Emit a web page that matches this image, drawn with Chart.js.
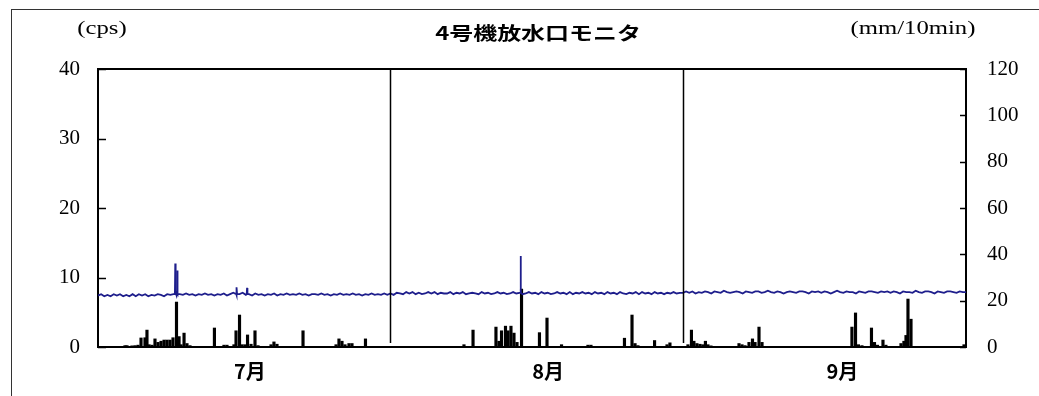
<!DOCTYPE html>
<html>
<head>
<meta charset="utf-8">
<script src="https://cdn.jsdelivr.net/npm/chart.js@4.4.1/dist/chart.umd.min.js"></script>
<style>
  html, body { margin: 0; padding: 0; background: #fff; overflow: hidden; }
  #wrap { position: relative; width: 1039px; height: 396px; }
  #frame { position: absolute; left: 11px; top: 9px; width: 1100px; height: 500px; border: 1.5px solid #333; box-sizing: border-box; }
  #chart { position: absolute; left: 0; top: 0; }
</style>
</head>
<body>
<div id="wrap">
  <div id="frame"></div>
  <canvas id="chart" width="1039" height="396"></canvas>
</div>
<script>
'use strict';

// --- data (x = days since 1 July) ---
const titleText = '4号機放水口モニタ';
const leftUnit = '(cps)';
const rightUnit = '(mm/10min)';
const monthLabels = ['7月', '8月', '9月'];
const monthLabelDays = [16.1, 47.7, 78.9];
const monthBreaks = [31, 62];

// monitor readings, 3 per day
const cpsJul = [
  7.4, 7.6, 7.3, 7.5, 7.3, 7.6, 7.4, 7.6, 7.3,
  7.5, 7.3, 7.6, 7.3, 7.6, 7.4, 7.6, 7.3, 7.5,
  7.4, 7.6, 7.5, 7.3, 7.6, 7.5, 7.6, 7.4, 7.6,
  7.5, 7.7, 7.5, 7.6, 7.4, 7.6, 7.5, 7.7, 7.5,
  7.6, 7.4, 7.6, 7.5, 7.7, 7.4, 7.6, 7.8, 7.5,
  7.6, 7.8, 7.5, 7.6, 7.4, 7.7, 7.5, 7.6, 7.4,
  7.6, 7.5, 7.7, 7.4, 7.6, 7.5, 7.7, 7.5, 7.6,
  7.5, 7.7, 7.5, 7.6, 7.4, 7.6, 7.6, 7.5, 7.7,
  7.5, 7.6, 7.4, 7.6, 7.5, 7.7, 7.5, 7.6, 7.5,
  7.7, 7.5, 7.6, 7.4, 7.6, 7.5, 7.7, 7.5, 7.6,
  7.5, 7.7, 7.5
];
const cpsAug = [
  7.7, 7.5, 7.8, 7.7, 7.6, 7.9, 7.7, 7.9, 7.6,
  7.8, 7.6, 7.7, 7.9, 7.7, 7.9, 7.6, 7.8, 7.7,
  7.7, 7.9, 7.6, 7.8, 7.7, 7.9, 7.6, 7.7, 7.8,
  7.7, 7.6, 7.9, 7.7, 7.8, 7.6, 7.7, 7.9, 7.7,
  7.8, 7.6, 7.7, 7.9, 7.7, 7.8, 7.6, 7.7, 7.9,
  7.7, 7.8, 7.6, 7.9, 7.7, 7.8, 7.6, 7.7, 7.9,
  7.7, 7.8, 7.6, 7.9, 7.6, 7.8, 7.7, 7.9, 7.7,
  7.8, 7.6, 7.9, 7.7, 7.8, 7.6, 7.9, 7.7, 7.8,
  7.6, 7.9, 7.7, 7.6, 7.8, 7.7, 7.9, 7.6, 7.9,
  7.7, 7.8, 7.6, 7.9, 7.7, 7.8, 7.6, 7.8, 7.7,
  7.9, 7.7, 7.8
];
const cpsSep = [
  7.8, 8.0, 7.8, 8.0, 7.7, 7.9, 7.8, 8.0, 7.9,
  7.7, 8.0, 7.9, 7.8, 8.1, 7.9, 7.8, 7.9, 8.0,
  7.9, 7.7, 8.0, 7.9, 7.8, 8.0, 8.0, 7.8, 7.9,
  8.1, 7.9, 7.8, 8.0, 7.9, 7.7, 7.9, 8.0, 7.9,
  7.8, 8.0, 8.0, 7.9, 7.7, 8.0, 7.9, 8.0, 7.8,
  8.0, 7.9, 7.7, 7.9, 8.1, 7.9, 7.8, 8.0, 7.9,
  7.9, 7.7, 8.0, 7.9, 7.8, 8.0, 8.0, 7.9, 7.8,
  8.0, 7.9, 8.0, 7.8, 8.0, 7.9, 7.7, 8.0, 7.9,
  7.9, 7.8, 8.1, 7.9, 7.8, 8.0, 8.0, 7.9, 7.7,
  8.0, 7.9, 7.8, 8.0, 8.0, 7.9, 7.8, 8.0, 7.9,
  7.9
];
// short spikes in the monitor reading
const spikeDays = [8.15, 8.19, 8.23, 8.38, 8.41, 8.45, 14.66, 14.7, 14.74, 15.76, 15.8, 15.84, 44.75, 44.79, 44.83];
const spikeCps  = [7.6, 12.0, 7.8, 7.7, 11.0, 7.6, 7.6, 8.6, 7.6, 7.6, 8.5, 7.6, 7.8, 13.1, 7.8];

// rainfall (mm/10min)
const rainDays = [
  2.86, 3.07, 3.6, 3.92, 4.24, 4.56, 4.98, 5.19, 5.41, 5.72, 6.04, 6.36, 6.68, 7.0, 7.31, 7.63, 7.95,
  8.32, 8.59, 8.8, 9.12, 9.43, 9.75, 12.34, 13.35, 13.67, 14.41, 14.63, 15.0, 15.26, 15.58, 15.85,
  16.22, 16.64, 16.96, 18.34, 18.65, 18.97, 21.73, 25.23, 25.54, 25.86, 26.18, 26.6, 26.92, 28.35,
  38.79, 39.75, 42.18, 42.5, 42.77, 43.19, 43.46, 43.77, 44.09, 44.41, 44.89, 46.79, 47.59, 49.13,
  51.93, 52.25, 55.8, 56.6, 56.92, 57.23, 58.99, 60.31, 60.62,
  62.53, 62.9, 63.16, 63.48, 63.8, 64.11, 64.38, 64.65, 64.97, 67.94, 68.26, 68.58, 69.0, 69.37,
  69.64, 70.06, 70.38, 79.91, 80.29, 80.6, 80.97, 81.98, 82.3, 82.62, 83.2, 83.51, 85.11, 85.42,
  85.64, 85.85, 86.17, 91.79
];
const rainMm = [
  0.6, 0.6, 0.5, 0.6, 0.8, 3.9, 4.0, 7.3, 1.0, 0.8, 3.5, 2.0, 2.5, 3.0, 3.0, 3.0, 4.0,
  19.4, 4.5, 1.0, 6.0, 1.5, 0.6, 8.2, 0.8, 0.8, 1.0, 7.0, 13.8, 1.0, 1.0, 5.2,
  1.2, 7.0, 0.6, 1.0, 2.2, 1.2, 7.0, 1.0, 3.5, 2.5, 1.0, 1.5, 1.5, 3.5,
  1.0, 7.3, 8.6, 2.5, 7.0, 9.0, 7.0, 9.0, 6.0, 2.0, 25.0, 6.2, 12.5, 1.0,
  0.8, 0.8, 3.8, 13.8, 1.5, 0.6, 2.8, 1.0, 1.8,
  1.0, 7.3, 2.5, 1.5, 1.2, 1.0, 2.5, 1.0, 0.5, 1.5, 1.0, 0.6, 2.0, 3.5,
  2.0, 8.6, 2.0, 8.6, 14.7, 1.0, 0.6, 8.2, 2.0, 0.8, 3.0, 0.8, 1.5, 2.5,
  5.0, 20.7, 12.0, 1.0
];

// build point lists
var cpsPoints = [];
cpsJul.forEach(function (v, i) { cpsPoints.push({ x: i / 3, y: v }); });
cpsAug.forEach(function (v, i) { cpsPoints.push({ x: 31 + i / 3, y: v }); });
cpsSep.forEach(function (v, i) { cpsPoints.push({ x: 62 + i / 3, y: v }); });
spikeDays.forEach(function (d, i) { cpsPoints.push({ x: d, y: spikeCps[i] }); });
cpsPoints.sort(function (a, b) { return a.x - b.x; });

var rainPoints = rainDays.map(function (d, i) { return { x: d, y: rainMm[i] }; });

const SERIF = "'Liberation Serif', 'DejaVu Serif', serif";
const GOTHIC = "'Noto Sans CJK JP', 'Noto Sans', sans-serif";

// frame lines, inward ticks, month dividers, stretched header text
const decorPlugin = {
  id: 'decor',
  afterDraw: function (chart) {
    var ctx = chart.ctx;
    var a = chart.chartArea;
    var x = chart.scales.x, y = chart.scales.y, y2 = chart.scales.y2;
    ctx.save();
    ctx.strokeStyle = '#000';
    ctx.lineWidth = 2;
    ctx.beginPath();
    ctx.moveTo(a.left, a.top);
    ctx.lineTo(a.right, a.top);
    ctx.stroke();

    ctx.lineWidth = 1.5;
    monthBreaks.forEach(function (d) {
      var px = Math.round(x.getPixelForValue(d)) + 0.5;
      ctx.beginPath();
      ctx.moveTo(px, a.top);
      ctx.lineTo(px, a.bottom - 4);
      ctx.stroke();
    });

    y.ticks.forEach(function (t) {
      var py = Math.round(y.getPixelForValue(t.value)) + 0.5;
      ctx.beginPath();
      ctx.moveTo(a.left, py);
      ctx.lineTo(a.left + 8, py);
      ctx.stroke();
    });
    y2.ticks.forEach(function (t) {
      var py = Math.round(y2.getPixelForValue(t.value)) + 0.5;
      ctx.beginPath();
      ctx.moveTo(a.right, py);
      ctx.lineTo(a.right - 6, py);
      ctx.stroke();
    });

    function stretched(text, cx, cy, font, sx) {
      ctx.save();
      ctx.translate(cx, cy);
      ctx.scale(sx, 1);
      ctx.font = font;
      ctx.fillStyle = '#000';
      ctx.textAlign = 'center';
      ctx.textBaseline = 'middle';
      ctx.fillText(text, 0, 0);
      ctx.restore();
    }
    stretched(titleText, 538, 33, 'bold 18px ' + GOTHIC, 1.33);
    stretched(leftUnit, 102, 29, '19px ' + SERIF, 1.3);
    stretched(rightUnit, 913, 29, '19px ' + SERIF, 1.3);
    ctx.restore();
  }
};

var config = {
  data: {
    datasets: [
      {
        type: 'line',
        label: 'cps',
        data: cpsPoints,
        yAxisID: 'y',
        borderColor: '#1e1e8c',
        borderWidth: 1.8,
        pointRadius: 0,
        tension: 0,
        order: 0
      },
      {
        type: 'bar',
        label: 'rain',
        data: rainPoints,
        yAxisID: 'y2',
        backgroundColor: '#000',
        barThickness: 2.5,
        order: 1
      }
    ]
  },
  options: {
    responsive: false,
    animation: false,
    devicePixelRatio: 1,
    layout: { padding: { left: 0, right: 0, top: 69, bottom: 0 } },
    plugins: {
      legend: { display: false },
      tooltip: { enabled: false },
      title: { display: false }
    },
    scales: {
      x: {
        type: 'linear',
        min: 0,
        max: 92,
        offset: false,
        grid: { display: false, drawTicks: false },
        border: { display: true, color: '#000', width: 2 },
        afterBuildTicks: function (scale) {
          scale.ticks = monthLabelDays.map(function (d) { return { value: d }; });
        },
        ticks: {
          autoSkip: false,
          maxRotation: 0,
          padding: 12,
          color: '#000',
          font: { family: GOTHIC, size: 20, weight: 'bold' },
          callback: function (v, i) { return monthLabels[i]; }
        },
        afterFit: function (scale) { scale.height = 49; }
      },
      y: {
        position: 'left',
        min: 0,
        max: 40,
        grid: { display: false, drawTicks: false },
        border: { display: true, color: '#000', width: 2 },
        ticks: {
          stepSize: 10,
          padding: 18,
          color: '#000',
          font: { family: SERIF, size: 21 }
        },
        afterFit: function (scale) { scale.width = 98; }
      },
      y2: {
        position: 'right',
        min: 0,
        max: 120,
        grid: { display: false, drawTicks: false },
        border: { display: true, color: '#000', width: 2 },
        ticks: {
          stepSize: 20,
          padding: 21,
          color: '#000',
          font: { family: SERIF, size: 21 }
        },
        afterFit: function (scale) { scale.width = 73; }
      }
    }
  },
  plugins: [decorPlugin]
};

var myChart = new Chart(document.getElementById('chart'), config);
</script>
</body>
</html>
